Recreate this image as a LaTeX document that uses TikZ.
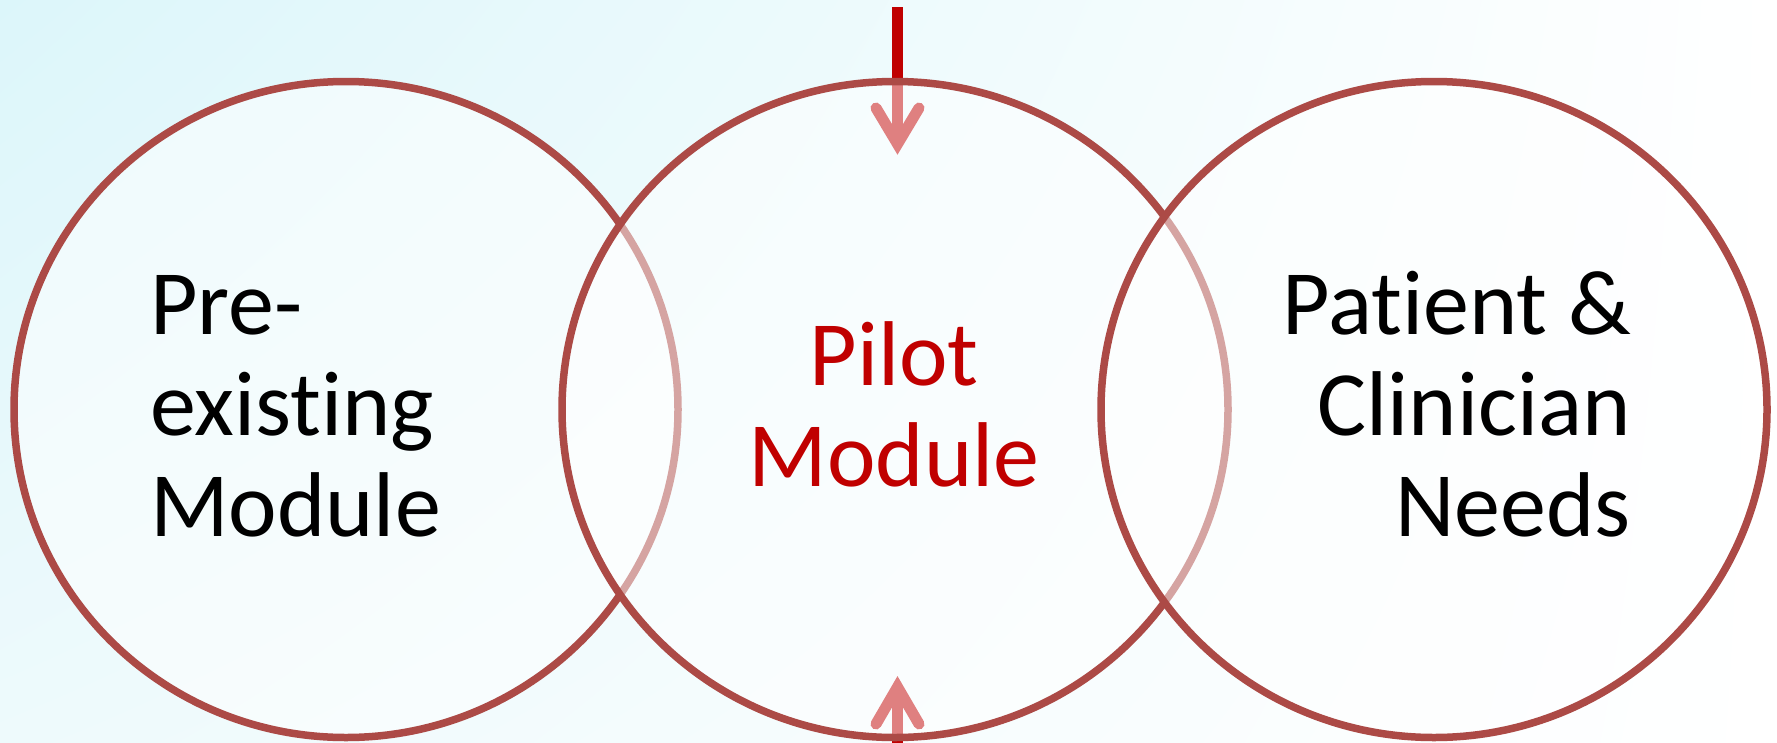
\documentclass[tikz,border=0pt]{standalone}
\usepackage{fontspec}
\setmainfont{Carlito}[Ligatures=NoCommon]
\usetikzlibrary{shadings}
\definecolor{ringred}{RGB}{172,74,70}
\definecolor{arrred}{RGB}{192,0,0}
\definecolor{bgcyan}{RGB}{220,246,250}
\definecolor{bgcyanmid}{RGB}{238,250,252}
\tikzset{
  ring/.style={draw=ringred, line width=7.5pt, fill=white, fill opacity=0.5, draw opacity=1},
  arrowline/.style={draw=arrred, line width=11pt},
  arrowhead/.style={draw=arrred, line width=11pt, line cap=round, line join=miter, miter limit=10},
  label/.style={inner sep=0pt, font=\fontsize{92}{101}\selectfont},
}
\begin{document}
\begin{tikzpicture}[x=1pt, y=-1pt]
\useasboundingbox (0,0) rectangle (1777,742);
\clip (0,0) rectangle (1777,742);
\shade[upper left=bgcyan, upper right=white, lower left=bgcyanmid, lower right=white] (0,0) rectangle (1777,742);

% arrows (drawn before the middle ring so that its fill fades them)
\coordinate (tstart) at (897.5,7);
\coordinate (tvertex) at (897.5,144);
\coordinate (tbl) at (876,108);
\coordinate (tbr) at (919,108);
\draw[arrowline] (tstart) -- (tvertex);
\draw[arrowhead] (tbl) -- (tvertex) -- (tbr);

\coordinate (bstart) at (897.5,760);
\coordinate (bvertex) at (897.5,687);
\coordinate (bbl) at (876,724);
\coordinate (bbr) at (919,724);
\draw[arrowline] (bstart) -- (bvertex);
\draw[arrowhead] (bbl) -- (bvertex) -- (bbr);

% rings
\path[ring] (346,409.5) ellipse [x radius=332, y radius=328];
\path[ring] (895,409.5) ellipse [x radius=333, y radius=328];
\path[ring] (1434,409.5) ellipse [x radius=333, y radius=328];

% labels (base anchor = baseline of the last line)
\node[label, anchor=base west, align=left] (pre) at (150,536) {Pre-\\existing\\Module};
\node[label, anchor=base, align=center, text=arrred] (pilot) at (894,486) {Pilot\\Module};
\node[label, anchor=base east, align=right] (needs) at (1631,536) {Patient \&\\Clinician\\Needs};
\end{tikzpicture}
\end{document}
